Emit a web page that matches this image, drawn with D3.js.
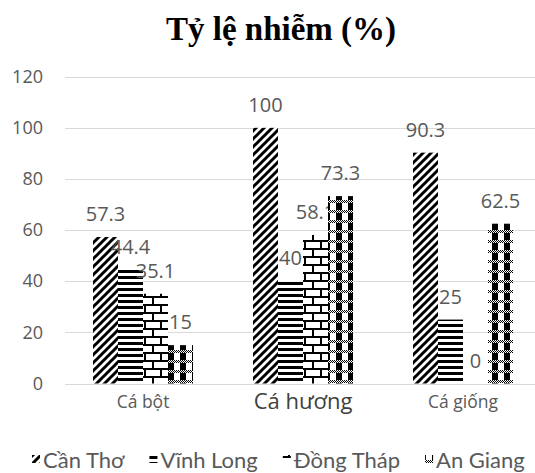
<!DOCTYPE html>
<html><head><meta charset="utf-8">
<script src="https://cdn.jsdelivr.net/npm/d3@7"></script>
<style>body{margin:0;background:#fff}svg{display:block}</style>
</head><body>
<svg id="c" width="535" height="473"></svg>
<script>
const categories = ["Cá bột", "Cá hương", "Cá giống"];
const seriesNames = ["Cần Thơ", "Vĩnh Long", "Đồng Tháp", "An Giang"];
const canTho = [57.3, 100, 90.3];
const vinhLong = [44.4, 40, 25];
const dongThap = [35.1, 58.1, 0];
const anGiang = [15, 73.3, 62.5];
const yTicks = [0, 20, 40, 60, 80, 100, 120];
const title = "Tỷ lệ nhiễm (%)";

const seriesValues = [canTho, vinhLong, dongThap, anGiang];
const svg = d3.select("#c");
const W = 535, H = 473;
const defs = svg.append("defs");

// patterns
const p0 = defs.append("pattern").attr("id","p0").attr("patternUnits","userSpaceOnUse").attr("width",8).attr("height",8);
p0.append("rect").attr("width",8).attr("height",8).attr("fill","#fff");
p0.append("path").attr("d","M-1,9 L9,-1 M-3,3 L3,-3 M5,11 L11,5").attr("stroke","#000").attr("stroke-width",3);

const p1 = defs.append("pattern").attr("id","p1").attr("patternUnits","userSpaceOnUse").attr("width",8).attr("height",6);
p1.append("rect").attr("width",8).attr("height",6).attr("fill","#fff");
p1.append("rect").attr("y",0).attr("width",8).attr("height",3).attr("fill","#000");

const p2 = defs.append("pattern").attr("id","p2").attr("patternUnits","userSpaceOnUse").attr("width",16).attr("height",16);
p2.append("rect").attr("width",16).attr("height",16).attr("fill","#fff");
p2.append("path").attr("d","M0,1 H16 M0,9 H16 M1,1 V9 M9,9 V17").attr("stroke","#000").attr("stroke-width",2);

const p3 = defs.append("pattern").attr("id","p3").attr("patternUnits","userSpaceOnUse").attr("width",12).attr("height",10);
p3.append("rect").attr("width",12).attr("height",10).attr("fill","#fff");
p3.append("rect").attr("x",0).attr("width",6).attr("height",10).attr("fill","#000");
p3.append("rect").attr("y",0).attr("width",12).attr("height",3).attr("fill","#fff");
for (let i=0;i<12;i++){ for(let j=0;j<3;j++){ if((i+j)%2===0) p3.append("rect").attr("x",i).attr("y",j).attr("width",1).attr("height",1).attr("fill","#000"); } }
const fills = ["url(#p0)","url(#p1)","url(#p2)","url(#p3)"];

// scales
const x = d3.scaleBand().domain(categories).range([63, 543]).paddingInner(0.375).paddingOuter(0.1875);
const xs = d3.scaleBand().domain(seriesNames).range([0, x.bandwidth()]).padding(0);
const y = d3.scaleLinear().domain([0, 120]).range([383.5, 76.7]);

// gridlines
svg.append("g").selectAll("line").data(yTicks).join("line")
  .attr("x1", 65).attr("x2", W).attr("y1", d => Math.round(y(d))+0.5).attr("y2", d => Math.round(y(d))+0.5)
  .attr("stroke", "#d9d9d9").attr("stroke-width", 1);

// y axis labels
const yAxis = d3.axisLeft(y).tickValues(yTicks).tickSize(0).tickPadding(0);
const gy = svg.append("g").attr("transform","translate(43,0)").call(yAxis);
gy.select(".domain").remove();
gy.selectAll("text").attr("font-family","'Open Sans', sans-serif").attr("font-size",18).attr("fill","#595959");

// x axis labels
const xAxis = d3.axisBottom(x).tickSize(0).tickPadding(0);
const gx = svg.append("g").attr("transform","translate(0,400)").call(xAxis);
gx.select(".domain").remove();
gx.selectAll("text").attr("font-family","'Open Sans', sans-serif").attr("font-size",17.5).attr("fill","#595959").attr("dy","0.45em")
  .filter(d => d === "Cá hương").attr("font-size",22).attr("fill","#404040").attr("dy","0.42em");

// bars
const groups = svg.append("g").selectAll("g").data(seriesNames).join("g");
groups.each(function(s, si){
  d3.select(this).selectAll("rect").data(categories).join("rect")
    .attr("x", c => x(c) + xs(s))
    .attr("y", (c, ci) => y(seriesValues[si][ci]))
    .attr("width", xs.bandwidth())
    .attr("height", (c, ci) => y(0) - y(seriesValues[si][ci]))
    .attr("fill", fills[si]);
});

// data labels
groups.each(function(s, si){
  d3.select(this).selectAll("text").data(categories).join("text")
    .attr("x", c => x(c) + xs(s) + xs.bandwidth()/2)
    .attr("y", (c, ci) => y(seriesValues[si][ci]) - 16)
    .attr("text-anchor","middle")
    .attr("font-family","'Open Sans', sans-serif").attr("font-size",20).attr("fill","#595959")
    .text((c, ci) => seriesValues[si][ci]);
});

// title
svg.append("text").attr("x", 281).attr("y", 40).attr("text-anchor","middle")
  .attr("font-family","'Liberation Serif', 'Times New Roman', serif").attr("font-weight","bold")
  .attr("font-size", 33).attr("fill","#000").text(title);

// legend
const lg = svg.append("g");
let lx = 32;
seriesNames.forEach((s, i) => {
  lg.append("rect").attr("x", lx).attr("y", 455).attr("width", 8).attr("height", 8).attr("fill", fills[i]);
  const t = lg.append("text").attr("x", lx + 11).attr("y", 468)
    .attr("font-family","Lato, sans-serif").attr("font-size",22).attr("fill","#595959").text(s);
  lx += 11 + t.node().getComputedTextLength() + 25;
});
</script>
</body></html>
